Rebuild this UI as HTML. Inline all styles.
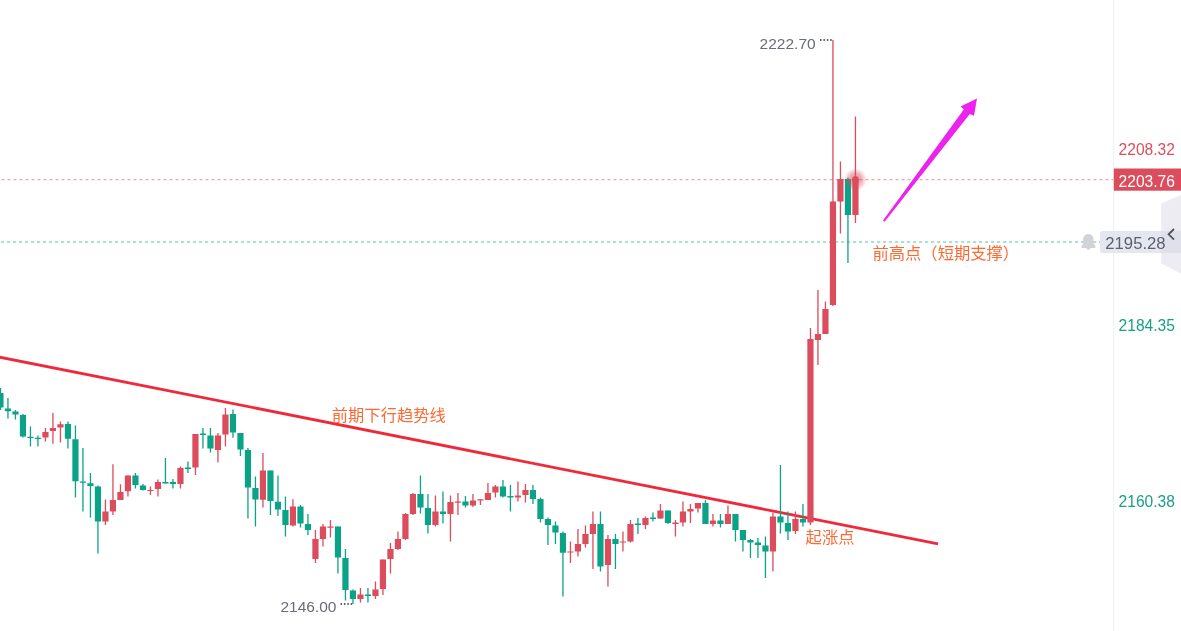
<!DOCTYPE html>
<html lang="zh-CN">
<head>
<meta charset="utf-8">
<title>chart</title>
<style>
html,body{margin:0;padding:0;background:#fff;}
body{width:1181px;height:631px;overflow:hidden;position:relative;font-family:"Liberation Sans","Noto Sans CJK SC",sans-serif;}
svg{position:absolute;left:0;top:0;display:block;}
.t{position:absolute;white-space:nowrap;line-height:1;}
.ax{font-size:15.6px;left:1118.6px;}
.cn{font-size:16.3px;color:#ff6a33;}
.lbl{font-size:15.5px;color:#6a6d78;}
</style>
</head>
<body>
<svg width="1181" height="631" viewBox="0 0 1181 631">
<defs>
<radialGradient id="glow" cx="50%" cy="50%" r="50%">
<stop offset="0" stop-color="#db4c5c" stop-opacity="0.7"/>
<stop offset="0.55" stop-color="#db4c5c" stop-opacity="0.42"/>
<stop offset="1" stop-color="#db4c5c" stop-opacity="0"/>
</radialGradient>
</defs>
<!-- axis line -->
<rect x="1113.2" y="0" width="1" height="631" fill="#eceef3"/>
<!-- dashed price lines -->
<line x1="0" y1="179.6" x2="1113" y2="179.6" stroke="#eda5ad" stroke-width="1.1" stroke-dasharray="3 3" stroke-dashoffset="-1.5"/>
<line x1="0" y1="242" x2="1100" y2="242" stroke="#8fd6c9" stroke-width="1.5" stroke-dasharray="3.2 2.8" stroke-dashoffset="-1"/>
<!-- trend line -->
<line x1="-2" y1="356.8" x2="938" y2="543.9" stroke="#f0283c" stroke-width="2.8"/>

<path d="M0.45 388V410M7.95 398V418.6M15.45 410V419.6M22.95 414V437.4M30.45 426.6V446.4M37.95 435.4V446.4M67.95 421.4V448.6M75.45 425.6V497.6M82.95 448V511.6M90.45 473V517.6M97.95 485.4V553.6M135.45 473V488.6M142.95 484V490.4M165.45 458V483.6M172.95 479V488.6M187.95 461.6V473M202.95 428V448.6M210.45 428V452.6M232.95 409.4V437.8M240.45 433V456M247.95 448V518.6M255.45 476.4V526.4M270.45 470.4V515M277.95 475.4V516M285.45 496.6V536.4M300.45 505V527.6M307.95 514V535M337.95 526.4V573.6M345.45 549V600.4M352.95 589.4V604M367.95 588V602.6M420.45 475.4V513.6M427.95 494V533.6M442.95 491.6V523.6M465.45 496V507.6M502.95 480V497.6M510.45 485V511.4M532.95 485V504M540.45 497.6V522.6M547.95 517.6V545M555.45 521.4V544M562.95 531.6V596.5M600.45 511.4V571.6M615.45 534V569M637.95 518V534M652.95 512.6V521.6M667.95 510.4V524M705.45 500V524M720.45 514V527.6M735.45 514V541.4M742.95 530V551.4M750.45 539V558M757.95 538V558M765.45 536.4V578M780.45 465V533.6M787.95 511.4V540M802.95 504V526.4M847.95 177.6V263" stroke="#0ba388" stroke-width="1.3" fill="none"/>
<path d="M45.45 428V441.4M52.95 413V443.8M60.45 421.6V442.6M105.45 499.4V525M112.95 464.2V515M120.45 484.2V500M127.95 475.4V496.4M150.45 486.4V495M157.95 479.4V496.4M180.45 466.4V488.6M195.45 434V475M217.95 433V462.6M225.45 408V446.4M262.95 453V507.6M292.95 499.2V526.4M315.45 530V563M322.95 524V546.6M330.45 520V537.6M360.45 588V602.6M375.45 581.6V599M382.95 559.4V595M390.45 543V573.6M397.95 531.6V550M405.45 513V540M412.95 493V515M435.45 495.4V526.4M450.45 495.4V541.4M457.95 493V515M472.95 494V507M480.45 499.2V505M487.95 483V500M495.45 485V497.6M517.95 481.4V501.4M525.45 484V502.6M570.45 541.4V563M577.95 529V556.4M585.45 525.4V547.6M592.95 511.4V569M607.95 535V586.6M622.95 531.4V551.4M630.45 520V542.6M645.45 516.4V529M660.45 504V519M675.45 520V536.6M682.95 501.4V526.6M690.45 504V523M697.95 503V512.4M712.95 514V526.4M727.95 505.4V524M772.95 512.4V571.4M795.45 511.4V534M810.45 328V525M817.95 290V365M825.45 301.6V334M832.95 40V306M840.45 161.6V233.6M855.45 116.6V223" stroke="#db4c5c" stroke-width="1.3" fill="none"/>
<path d="M-2.65 393h6.2v14.4h-6.2zM4.85 408.4h6.2v2.8h-6.2zM12.35 411.6h6.2v2.8h-6.2zM19.85 415h6.2v21.6h-6.2zM27.35 436.8h6.2v1.2h-6.2zM34.85 437.8h6.2v1.2h-6.2zM64.85 424h6.2v14.8h-6.2zM72.35 439.2h6.2v42h-6.2zM79.85 481.6h6.2v1.2h-6.2zM87.35 483.2h6.2v2.8h-6.2zM94.85 486.6h6.2v34.8h-6.2zM132.35 475.4h6.2v9.6h-6.2zM139.85 485.4h6.2v4.6h-6.2zM162.35 482h6.2v1.4h-6.2zM169.85 482h6.2v2h-6.2zM184.85 467.6h6.2v1.4h-6.2zM199.85 433.6h6.2v1.4h-6.2zM207.35 435.4h6.2v13.2h-6.2zM229.85 414h6.2v18.5h-6.2zM237.35 433h6.2v16.6h-6.2zM244.85 450h6.2v37.6h-6.2zM252.35 488h6.2v11.6h-6.2zM267.35 470.4h6.2v30.6h-6.2zM274.85 501.8h6.2v7.8h-6.2zM282.35 510h6.2v15h-6.2zM297.35 506.6h6.2v17h-6.2zM304.85 524h6.2v6h-6.2zM334.85 526.4h6.2v31.2h-6.2zM342.35 558h6.2v32h-6.2zM349.85 590.4h6.2v8.6h-6.2zM364.85 594.4h6.2v1.6h-6.2zM417.35 494h6.2v13.6h-6.2zM424.85 508h6.2v17h-6.2zM439.85 511.6h6.2v2.4h-6.2zM462.35 501.6h6.2v4h-6.2zM499.85 486.6h6.2v9.8h-6.2zM507.35 496h6.2v1.4h-6.2zM529.85 490h6.2v9h-6.2zM537.35 499h6.2v20h-6.2zM544.85 519h6.2v6h-6.2zM552.35 525.4h6.2v7.2h-6.2zM559.85 533h6.2v19.8h-6.2zM597.35 524h6.2v42.4h-6.2zM612.35 539h6.2v5h-6.2zM634.85 523.6h6.2v1.4h-6.2zM649.85 517.6h6.2v1.4h-6.2zM664.85 510.4h6.2v12.6h-6.2zM702.35 503h6.2v21h-6.2zM717.35 520.4h6.2v3.6h-6.2zM732.35 514h6.2v16h-6.2zM739.85 530h6.2v10h-6.2zM747.35 540h6.2v2.6h-6.2zM754.85 542.6h6.2v2.4h-6.2zM762.35 545.4h6.2v6h-6.2zM777.35 516.6h6.2v6h-6.2zM784.85 523h6.2v8.4h-6.2zM799.85 519h6.2v3.6h-6.2zM844.85 179h6.2v36h-6.2z" fill="#0ba388"/>
<path d="M42.35 432h6.2v5.6h-6.2zM49.85 428h6.2v3h-6.2zM57.35 424.2h6.2v3.4h-6.2zM102.35 511.6h6.2v9.8h-6.2zM109.85 500h6.2v11.4h-6.2zM117.35 492h6.2v8h-6.2zM124.85 475.4h6.2v15.8h-6.2zM147.35 489.9h6.2v1.2h-6.2zM154.85 482h6.2v7h-6.2zM177.35 468h6.2v16h-6.2zM192.35 434h6.2v33.6h-6.2zM214.85 435.4h6.2v14.6h-6.2zM222.35 414.4h6.2v20.2h-6.2zM259.85 470.4h6.2v29.4h-6.2zM289.85 506.6h6.2v19h-6.2zM312.35 539h6.2v20h-6.2zM319.85 526.6h6.2v12.4h-6.2zM327.35 526.6h6.2v1.2h-6.2zM357.35 594.4h6.2v4.6h-6.2zM372.35 589.4h6.2v6.6h-6.2zM379.85 559.4h6.2v29.6h-6.2zM387.35 549h6.2v10h-6.2zM394.85 539h6.2v10h-6.2zM402.35 514h6.2v25h-6.2zM409.85 494h6.2v20h-6.2zM432.35 511.6h6.2v13.4h-6.2zM447.35 502h6.2v12h-6.2zM454.85 501.6h6.2v1.2h-6.2zM469.85 500.4h6.2v5h-6.2zM477.35 499.2h6.2v1.2h-6.2zM484.85 493h6.2v7h-6.2zM492.35 486.6h6.2v6h-6.2zM514.85 495.4h6.2v2.2h-6.2zM522.35 490h6.2v5h-6.2zM567.35 551.4h6.2v1.2h-6.2zM574.85 544h6.2v7.4h-6.2zM582.35 534h6.2v10h-6.2zM589.85 524h6.2v10h-6.2zM604.85 539h6.2v26h-6.2zM619.85 541.4h6.2v1.2h-6.2zM627.35 524h6.2v17.4h-6.2zM642.35 518h6.2v7h-6.2zM657.35 510.4h6.2v8.2h-6.2zM672.35 522.6h6.2v1.4h-6.2zM679.85 511.6h6.2v11h-6.2zM687.35 509h6.2v2.4h-6.2zM694.85 503h6.2v5.6h-6.2zM709.85 520.4h6.2v3.6h-6.2zM724.85 514h6.2v10h-6.2zM769.85 516.6h6.2v34.8h-6.2zM792.35 519h6.2v12h-6.2zM807.35 339h6.2v183.6h-6.2zM814.85 334h6.2v6h-6.2zM822.35 309h6.2v25h-6.2zM829.85 201.6h6.2v103.4h-6.2zM837.35 179h6.2v22.4h-6.2zM852.35 179.6h6.2v35.4h-6.2z" fill="#db4c5c"/>

<!-- current price glow -->
<circle cx="855.4" cy="179.6" r="11.5" fill="url(#glow)"/>
<circle cx="855.45" cy="179.6" r="3.3" fill="#db4c5c"/>
<!-- magenta arrow -->
<path d="M883 220.6 L963.8 109.4 L960.6 106.4 L977 98.4 L974 115.8 L969.8 114 L884.6 221.8 Z" fill="#ee22ee"/>
<!-- dotted leaders -->
<line x1="820" y1="40" x2="832" y2="40" stroke="#2a2a2a" stroke-width="1.3" stroke-dasharray="1.5 1.9"/>
<line x1="340.5" y1="604" x2="352.5" y2="604" stroke="#2a2a2a" stroke-width="1.3" stroke-dasharray="1.5 1.9"/>
<!-- price tag red -->
<rect x="1113.8" y="168.5" width="68" height="22.2" fill="#db4c5c"/>
<!-- alert label -->
<path d="M1103 231.1 H1181 V253.1 H1103 a3 3 0 0 1 -3 -3 V234.1 a3 3 0 0 1 3 -3z" fill="#e4e7ef"/>
<!-- side button -->
<path d="M1161.2 203.6 L1181 195 V273.5 L1161.2 263.5 Z" fill="#d9d9e6" fill-opacity="0.5"/>
<path d="M1174 229 L1168.6 234.3 L1174 239.6" fill="none" stroke="#50535e" stroke-width="1.8"/>
<!-- bell -->
<path d="M1088.4 234 c-3.6 0 -5.2 2.8 -5.2 5.8 v3.2 c0 1.4 -2 2.6 -2 3.8 c0 0.9 0.6 1.2 1.4 1.2 h3.6 a2.3 2.3 0 0 0 4.4 0 h3.6 c0.8 0 1.4 -0.3 1.4 -1.2 c0 -1.2 -2 -2.4 -2 -3.8 v-3.2 c0 -3 -1.6 -5.8 -5.2 -5.8z" fill="#d2d3d9"/>
</svg>
<div class="t ax" style="top:142px;color:#d9505f;">2208.32</div>
<div class="t ax" style="top:174px;color:#fff;">2203.76</div>
<div class="t ax" style="top:318px;color:#1a9e87;">2184.35</div>
<div class="t ax" style="top:494px;color:#1a9e87;">2160.38</div>
<div class="t ax" style="top:235.7px;left:1105.3px;color:#5d6173;font-size:16.7px;">2195.28</div>
<div class="t lbl" style="top:35.6px;left:759.6px;">2222.70</div>
<div class="t lbl" style="top:599.2px;left:280.4px;">2146.00</div>
<div class="t cn" style="top:406.9px;left:331.8px;">前期下行趋势线</div>
<div class="t cn" style="top:529px;left:805.6px;">起涨点</div>
<div class="t cn" style="top:245px;left:872.5px;">前高点（短期支撑）</div>
</body>
</html>
